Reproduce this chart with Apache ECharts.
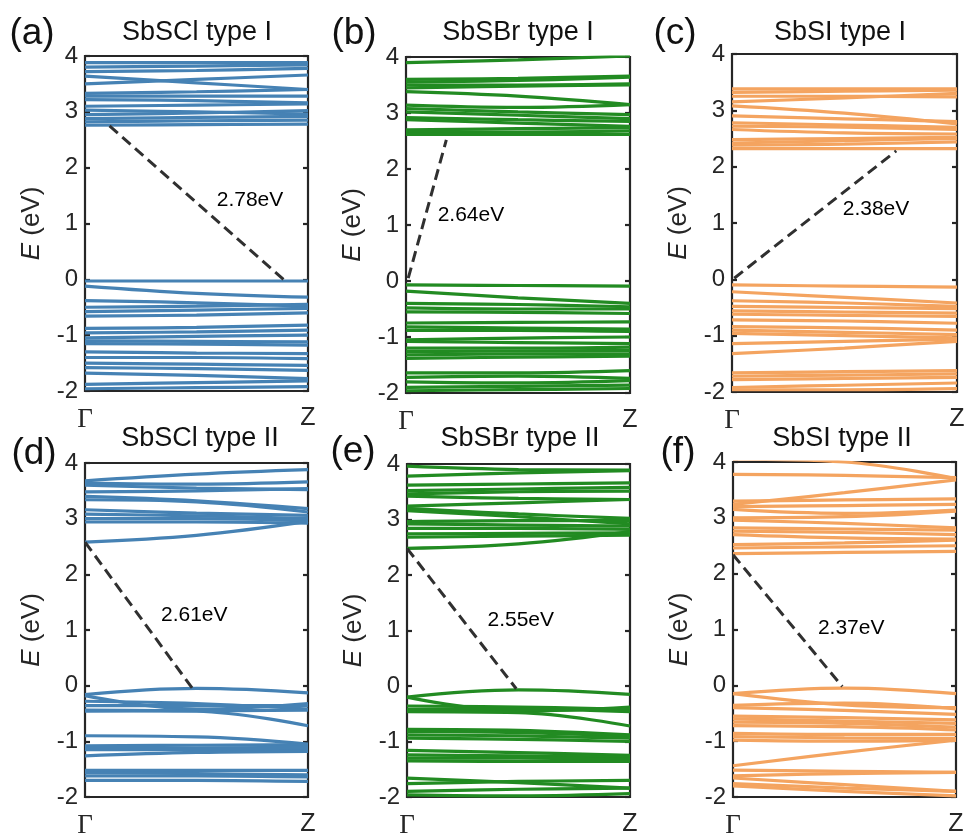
<!DOCTYPE html>
<html>
<head>
<meta charset="utf-8">
<script src="https://cdn.jsdelivr.net/npm/echarts@6/dist/echarts.min.js"></script>
<style>
html,body{margin:0;padding:0;background:#fff;}
#chart{width:968px;height:839px;}
</style>
</head>
<body>
<div id="chart"></div>
<script>
// k-path sample positions (Γ = 0, Z = 1)
const kPath = [0, 0.5, 1];
const kTickLabels = ['Γ', 'Z'];
const yTicks = [-2, -1, 0, 1, 2, 3, 4];

const panelLetters = ['(a)', '(b)', '(c)', '(d)', '(e)', '(f)'];
const panelTitles = ['SbSCl type I', 'SbSBr type I', 'SbSI type I',
                     'SbSCl type II', 'SbSBr type II', 'SbSI type II'];
const gapTexts = ['2.78eV', '2.64eV', '2.38eV', '2.61eV', '2.55eV', '2.37eV'];

// band energies (eV) at Γ, midpoint, Z
const bandsA = [
  [3.88, 3.88, 3.88], [3.80, 3.82, 3.84], [3.72, 3.74, 3.78], [3.64, 3.52, 3.40], [3.50, 3.58, 3.66],
  [3.33, 3.36, 3.40], [3.28, 3.28, 3.28], [3.22, 3.20, 3.16], [3.10, 3.12, 3.14], [3.03, 3.00, 2.96],
  [2.95, 2.98, 3.02], [2.88, 2.90, 2.92], [2.82, 2.84, 2.85], [2.76, 2.77, 2.78],
  [-0.03, -0.03, -0.03], [-0.12, -0.25, -0.32], [-0.38, -0.42, -0.48], [-0.50, -0.48, -0.45],
  [-0.58, -0.55, -0.52], [-0.66, -0.64, -0.60], [-0.88, -0.86, -0.82], [-0.96, -0.94, -0.91],
  [-1.05, -1.02, -1.00], [-1.10, -1.11, -1.12], [-1.15, -1.16, -1.18], [-1.30, -1.32, -1.33],
  [-1.40, -1.40, -1.42], [-1.50, -1.52, -1.54], [-1.58, -1.60, -1.63], [-1.68, -1.72, -1.78],
  [-1.88, -1.85, -1.82], [-1.96, -1.94, -1.92]
];
const bandsB = [
  [3.90, 3.95, 4.02], [3.60, 3.62, 3.66], [3.55, 3.58, 3.64], [3.50, 3.50, 3.52], [3.45, 3.48, 3.50],
  [3.38, 3.30, 3.15], [3.14, 3.10, 3.15], [3.08, 3.02, 2.97], [3.02, 2.96, 2.90], [2.92, 2.88, 2.85],
  [2.88, 2.82, 2.76], [2.70, 2.72, 2.74], [2.66, 2.66, 2.68], [2.62, 2.62, 2.62],
  [-0.07, -0.08, -0.09], [-0.18, -0.30, -0.40], [-0.40, -0.42, -0.46], [-0.48, -0.50, -0.50],
  [-0.55, -0.56, -0.58], [-0.75, -0.74, -0.73], [-0.82, -0.84, -0.86], [-0.88, -0.88, -0.90],
  [-1.05, -1.02, -1.00], [-1.08, -1.10, -1.12], [-1.20, -1.20, -1.18], [-1.26, -1.25, -1.24],
  [-1.32, -1.30, -1.30], [-1.38, -1.36, -1.34], [-1.64, -1.64, -1.60], [-1.72, -1.70, -1.74],
  [-1.80, -1.82, -1.78], [-1.90, -1.88, -1.86], [-1.96, -1.94, -1.92]
];
const bandsC = [
  [3.38, 3.38, 3.38], [3.32, 3.34, 3.36], [3.25, 3.25, 3.24], [3.15, 3.22, 3.30], [3.08, 2.95, 2.76],
  [2.90, 2.85, 2.80], [2.78, 2.74, 2.70], [2.72, 2.70, 2.66], [2.66, 2.60, 2.58], [2.48, 2.50, 2.52],
  [2.42, 2.46, 2.50], [2.38, 2.40, 2.44], [2.32, 2.32, 2.32],
  [-0.10, -0.12, -0.14], [-0.22, -0.32, -0.42], [-0.38, -0.42, -0.48], [-0.48, -0.50, -0.52],
  [-0.56, -0.58, -0.60], [-0.62, -0.64, -0.66], [-0.72, -0.74, -0.78], [-0.84, -0.86, -0.90],
  [-0.90, -0.94, -0.98], [-0.96, -1.00, -1.04], [-1.14, -1.10, -1.06], [-1.32, -1.22, -1.10],
  [-1.66, -1.64, -1.62], [-1.72, -1.70, -1.68], [-1.78, -1.76, -1.74], [-1.92, -1.88, -1.84],
  [-1.96, -1.96, -1.94]
];
const bandsD = [
  [3.68, 3.80, 3.88], [3.64, 3.62, 3.66], [3.60, 3.55, 3.52], [3.48, 3.50, 3.54], [3.40, 3.32, 3.18],
  [3.34, 3.30, 3.12], [3.16, 3.10, 3.06], [3.08, 3.05, 3.00], [3.00, 3.00, 2.96], [2.94, 2.94, 2.92],
  [2.58, 2.70, 2.95],
  [-0.16, -0.05, -0.13], [-0.18, -0.42, -0.32], [-0.28, -0.32, -0.42], [-0.36, -0.36, -0.36],
  [-0.44, -0.46, -0.72], [-0.46, -0.45, -0.44], [-0.90, -0.92, -1.05], [-1.08, -1.07, -1.06],
  [-1.12, -1.12, -1.10], [-1.15, -1.15, -1.15], [-1.26, -1.20, -1.18], [-1.52, -1.52, -1.52],
  [-1.56, -1.58, -1.60], [-1.62, -1.62, -1.64], [-1.70, -1.70, -1.72]
];
const bandsE = [
  [3.96, 3.90, 3.89], [3.78, 3.84, 3.88], [3.62, 3.64, 3.66], [3.52, 3.55, 3.58], [3.46, 3.50, 3.51],
  [3.42, 3.38, 3.36], [3.24, 3.30, 3.36], [3.20, 3.10, 3.02], [3.16, 3.05, 2.92], [2.96, 2.98, 2.98],
  [2.92, 2.90, 2.88], [2.84, 2.84, 2.82], [2.74, 2.75, 2.76], [2.68, 2.70, 2.72], [2.48, 2.56, 2.78],
  [-0.20, -0.07, -0.15], [-0.20, -0.45, -0.38], [-0.36, -0.38, -0.42], [-0.42, -0.42, -0.46],
  [-0.46, -0.48, -0.72], [-0.78, -0.80, -0.88], [-0.82, -0.84, -0.90], [-0.88, -0.90, -0.94],
  [-0.94, -0.96, -1.00], [-1.16, -1.20, -1.25], [-1.24, -1.26, -1.28], [-1.30, -1.30, -1.32],
  [-1.35, -1.36, -1.36], [-1.66, -1.74, -1.84], [-1.76, -1.72, -1.70], [-1.90, -1.86, -1.84],
  [-1.96, -1.98, -1.94]
];
const bandsF = [
  [3.78, 3.76, 3.72], [4.05, 4.00, 3.70], [3.24, 3.45, 3.68], [3.30, 3.32, 3.34], [3.20, 3.22, 3.24],
  [3.15, 3.08, 3.14], [3.00, 3.02, 3.12], [2.96, 2.90, 2.82], [2.82, 2.80, 2.78], [2.76, 2.74, 2.70],
  [2.70, 2.64, 2.62], [2.52, 2.55, 2.60], [2.46, 2.48, 2.50], [2.36, 2.38, 2.40],
  [-0.15, -0.05, -0.15], [-0.15, -0.35, -0.40], [-0.36, -0.32, -0.42], [-0.40, -0.45, -0.52],
  [-0.55, -0.58, -0.62], [-0.60, -0.64, -0.68], [-0.66, -0.68, -0.75], [-0.72, -0.74, -0.80],
  [-0.86, -0.88, -0.88], [-0.92, -0.94, -0.95], [-0.98, -1.00, -0.98], [-1.44, -1.20, -0.98],
  [-1.52, -1.54, -1.56], [-1.62, -1.58, -1.56], [-1.66, -1.78, -1.90], [-1.76, -1.84, -1.90],
  [-1.80, -1.90, -1.98]
];

// dashed gap lines: [k, E] endpoints
const gapLineA = [[0.11, 2.75], [0.89, 0.0]];
const gapLineB = [[0.01, 0.05], [0.18, 2.52]];
const gapLineC = [[0.01, 0.02], [0.73, 2.28]];
const gapLineD = [[0.0, 2.58], [0.48, -0.04]];
const gapLineE = [[0.0, 2.48], [0.49, -0.05]];
const gapLineF = [[0.0, 2.34], [0.49, -0.02]];

// gap label anchor points [k, E]
const gapLabelPos = [[0.74, 1.42], [0.29, 1.18], [0.64, 1.24], [0.49, 1.27], [0.51, 1.18], [0.53, 1.03]];

const allBands = [bandsA, bandsB, bandsC, bandsD, bandsE, bandsF];
const allGapLines = [gapLineA, gapLineB, gapLineC, gapLineD, gapLineE, gapLineF];
const colors = ['#4682B4', '#228B22', '#F4A460', '#4682B4', '#228B22', '#F4A460'];

const gridRects = [
  {left: 85, top: 56, width: 223, height: 335},
  {left: 406, top: 57, width: 224, height: 336},
  {left: 732, top: 54, width: 225, height: 338},
  {left: 85, top: 463, width: 223, height: 335},
  {left: 407, top: 464, width: 223, height: 336},
  {left: 733, top: 462, width: 223, height: 336}
];
const titlePos = [[197, 33], [518, 33], [840, 33], [200, 439], [520, 439], [842, 439]];
const letterPos = [[32, 34], [354, 34], [675, 34], [34, 454], [353, 452], [678, 453]];

const FONT = "'Liberation Sans', Arial, Helvetica, sans-serif";
const INK = '#262626';

const grid = [], xAxis = [], yAxis = [], series = [], graphic = [];

gridRects.forEach((r, i) => {
  grid.push(Object.assign({show: true, borderColor: INK, borderWidth: 2.2, backgroundColor: 'transparent', containLabel: false}, r));
  xAxis.push({
    type: 'value', gridIndex: i, min: 0, max: 1, interval: 1,
    axisLine: {show: false}, axisTick: {show: false}, splitLine: {show: false},
    axisLabel: {
      margin: 15,
      formatter: v => v === 0 ? '{g|' + kTickLabels[0] + '}' : '{z|' + kTickLabels[1] + '}',
      rich: {
        g: {fontFamily: "'Liberation Serif', 'Times New Roman', serif", fontSize: 27, color: INK},
        z: {fontFamily: FONT, fontSize: 25, color: INK}
      }
    }
  });
  yAxis.push({
    type: 'value', gridIndex: i, min: yTicks[0], max: yTicks[yTicks.length - 1], interval: 1,
    position: 'left',
    axisLine: {show: false},
    axisTick: {show: true, inside: true, length: 5, lineStyle: {color: INK, width: 2.2}},
    splitLine: {show: false},
    axisLabel: {fontFamily: FONT, fontSize: 24, color: INK, margin: 7},
    name: '{it|E} (eV)', nameLocation: 'middle', nameGap: 40, nameRotate: 90,
    nameTextStyle: {fontFamily: FONT, fontSize: 26, color: INK,
      rich: {it: {fontFamily: FONT, fontSize: 26, fontStyle: 'italic', color: INK}}}
  });
  yAxis.push({
    type: 'value', gridIndex: i, min: yTicks[0], max: yTicks[yTicks.length - 1], interval: 1,
    position: 'right',
    axisLine: {show: false},
    axisTick: {show: true, inside: true, length: 5, lineStyle: {color: INK, width: 2.2}},
    splitLine: {show: false},
    axisLabel: {show: false}
  });

  allBands[i].forEach(b => {
    series.push({
      type: 'line', xAxisIndex: i, yAxisIndex: 2 * i,
      data: kPath.map((k, j) => [k, b[j]]),
      smooth: 0.4, showSymbol: false, silent: true, animation: false,
      lineStyle: {color: colors[i], width: 3.2}, z: 2
    });
  });

  series.push({
    type: 'line', xAxisIndex: i, yAxisIndex: 2 * i,
    data: allGapLines[i], showSymbol: false, silent: true, animation: false,
    lineStyle: {color: '#303030', width: 3, type: [11, 6]}, z: 4
  });

  series.push({
    type: 'scatter', xAxisIndex: i, yAxisIndex: 2 * i,
    data: [gapLabelPos[i]], symbolSize: 0, silent: true, animation: false,
    itemStyle: {opacity: 1},
    label: {show: true, position: 'inside', formatter: gapTexts[i], opacity: 1,
      fontFamily: FONT, fontSize: 21, color: '#000000'}, z: 5
  });

  graphic.push({
    type: 'text', x: titlePos[i][0], y: titlePos[i][1],
    style: {text: panelTitles[i], fontFamily: FONT, fontSize: 27, fill: '#111111',
      align: 'center', verticalAlign: 'middle', textAlign: 'center', textVerticalAlign: 'middle'}
  });
  graphic.push({
    type: 'text', x: letterPos[i][0], y: letterPos[i][1],
    style: {text: panelLetters[i], fontFamily: FONT, fontSize: 37, fill: '#111111',
      align: 'center', verticalAlign: 'middle', textAlign: 'center', textVerticalAlign: 'middle'}
  });
});

const chart = echarts.init(document.getElementById('chart'), null, {renderer: 'canvas'});
chart.setOption({
  backgroundColor: '#ffffff',
  animation: false,
  grid, xAxis, yAxis, series, graphic
});
</script>
</body>
</html>
